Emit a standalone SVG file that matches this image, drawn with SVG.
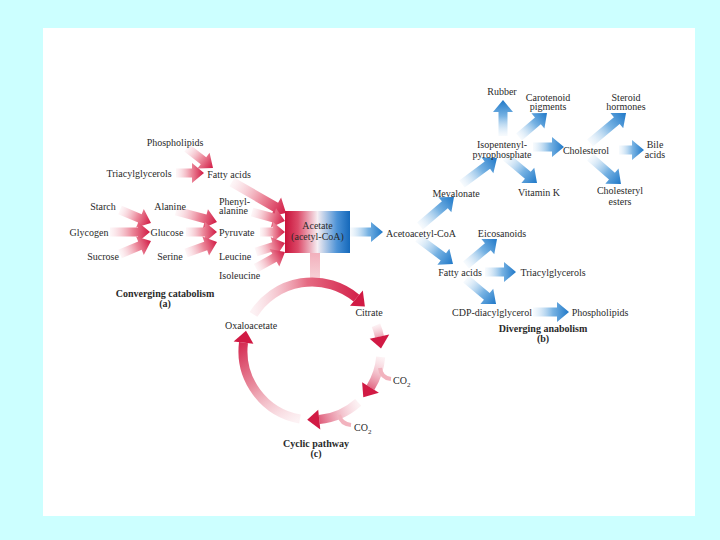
<svg xmlns="http://www.w3.org/2000/svg" width="720" height="540" viewBox="0 0 720 540">
<style>
text{font-family:"Liberation Serif","DejaVu Serif",serif;font-size:10px;fill:#2a2a2a;text-anchor:middle}
.l{text-anchor:start}
.b{font-weight:bold;font-size:10px}
.r{fill:url(#gR)}
.bl{fill:url(#gB)}
</style>
<defs>
<linearGradient id="gR" x1="0" y1="0" x2="1" y2="0">
<stop offset="0" stop-color="#f7d3da" stop-opacity="0.2"/>
<stop offset="0.55" stop-color="#ec8a9c"/>
<stop offset="1" stop-color="#d11a44"/>
</linearGradient>
<linearGradient id="gB" x1="0" y1="0" x2="1" y2="0">
<stop offset="0" stop-color="#d6e8f7" stop-opacity="0.2"/>
<stop offset="0.55" stop-color="#78b3e3"/>
<stop offset="1" stop-color="#1f78c8"/>
</linearGradient>
<linearGradient id="gBox" x1="0" y1="0" x2="1" y2="0">
<stop offset="0" stop-color="#c8123a"/>
<stop offset="0.2" stop-color="#dc4a68"/>
<stop offset="0.5" stop-color="#f6eef2"/>
<stop offset="0.8" stop-color="#4c92d6"/>
<stop offset="1" stop-color="#1468ba"/>
</linearGradient>
<linearGradient id="gStem" x1="0" y1="0" x2="0" y2="1">
<stop offset="0" stop-color="#f2b0bc"/>
<stop offset="1" stop-color="#f8dade"/>
</linearGradient>
<linearGradient id="a1" gradientUnits="userSpaceOnUse" x1="253" y1="314" x2="365" y2="307">
<stop offset="0" stop-color="#f7d3da" stop-opacity="0.3"/><stop offset="0.5" stop-color="#e56a82"/><stop offset="1" stop-color="#d11a44"/>
</linearGradient>
<linearGradient id="a2" gradientUnits="userSpaceOnUse" x1="376" y1="325" x2="381" y2="349">
<stop offset="0" stop-color="#f7d3da" stop-opacity="0.3"/><stop offset="1" stop-color="#d11a44"/>
</linearGradient>
<linearGradient id="a3" gradientUnits="userSpaceOnUse" x1="381" y1="357" x2="363" y2="397">
<stop offset="0" stop-color="#f7d3da" stop-opacity="0.3"/><stop offset="1" stop-color="#d11a44"/>
</linearGradient>
<linearGradient id="a4" gradientUnits="userSpaceOnUse" x1="358" y1="402" x2="307" y2="420">
<stop offset="0" stop-color="#f7d3da" stop-opacity="0.3"/><stop offset="1" stop-color="#d11a44"/>
</linearGradient>
<linearGradient id="a5" gradientUnits="userSpaceOnUse" x1="300" y1="419" x2="246" y2="331">
<stop offset="0" stop-color="#f7d3da" stop-opacity="0.3"/><stop offset="0.5" stop-color="#e98fa0"/><stop offset="1" stop-color="#d11a44"/>
</linearGradient>
</defs>
<rect width="720" height="540" fill="#ccffff"/>
<rect x="43" y="28" width="652" height="488" fill="#ffffff"/>

<g id="connectors">
<path class="r" transform="translate(187,148) rotate(37.6)" d="M0,-4.5 H20.8 V-10 L32.8,0 L20.8,10 V4.5 H0 Z"/>
<path class="r" transform="translate(176,173)" d="M0,-4.5 H16 V-10 L28,0 L16,10 V4.5 H0 Z"/>
<path class="r" transform="translate(232,182) rotate(29.9)" d="M0,-5 H50.3 V-11 L62.3,0 L50.3,11 V5 H0 Z"/>
<path class="r" transform="translate(120,210) rotate(22.7)" d="M0,-4.5 H21.6 V-10 L33.6,0 L21.6,10 V4.5 H0 Z"/>
<path class="r" transform="translate(110,232)" d="M0,-4.5 H28 V-10 L40,0 L28,10 V4.5 H0 Z"/>
<path class="r" transform="translate(120,254) rotate(-22.7)" d="M0,-4.5 H21.6 V-10 L33.6,0 L21.6,10 V4.5 H0 Z"/>
<path class="r" transform="translate(176,211) rotate(15)" d="M0,-4.5 H30.4 V-10 L42.4,0 L30.4,10 V4.5 H0 Z"/>
<path class="r" transform="translate(186,232)" d="M0,-4.5 H19 V-10 L31,0 L19,10 V4.5 H0 Z"/>
<path class="r" transform="translate(186,253) rotate(-19.5)" d="M0,-4.5 H20.9 V-10 L32.9,0 L20.9,10 V4.5 H0 Z"/>
<path class="r" transform="translate(252,212) rotate(15.3)" d="M0,-4.5 H22.2 V-10 L34.2,0 L22.2,10 V4.5 H0 Z"/>
<path class="r" transform="translate(260,232)" d="M0,-4.5 H13 V-10 L25,0 L13,10 V4.5 H0 Z"/>
<path class="r" transform="translate(256,252) rotate(-17.2)" d="M0,-4.5 H18.4 V-10 L30.4,0 L18.4,10 V4.5 H0 Z"/>
<path class="r" transform="translate(256,268) rotate(-28.9)" d="M0,-4.5 H21.1 V-10 L33.1,0 L21.1,10 V4.5 H0 Z"/>

<path class="bl" transform="translate(350,232)" d="M0,-4.5 H21 V-10 L33,0 L21,10 V4.5 H0 Z"/>
<path class="bl" transform="translate(420,226) rotate(-40.5)" d="M0,-4.5 H32.7 V-10 L44.7,0 L32.7,10 V4.5 H0 Z"/>
<path class="bl" transform="translate(418,238) rotate(36.6)" d="M0,-4.5 H31.6 V-10 L43.6,0 L31.6,10 V4.5 H0 Z"/>
<path class="bl" transform="translate(462,184) rotate(-36.6)" d="M0,-4.5 H31.6 V-10 L43.6,0 L31.6,10 V4.5 H0 Z"/>
<path class="bl" transform="translate(503,136) rotate(-90)" d="M0,-4.5 H24 V-10 L36,0 L24,10 V4.5 H0 Z"/>
<path class="bl" transform="translate(519,137) rotate(-40.6)" d="M0,-4.5 H24.9 V-10 L36.9,0 L24.9,10 V4.5 H0 Z"/>
<path class="bl" transform="translate(533,147)" d="M0,-4.5 H19 V-10 L31,0 L19,10 V4.5 H0 Z"/>
<path class="bl" transform="translate(506,157) rotate(40)" d="M0,-4.5 H28.5 V-10 L40.5,0 L28.5,10 V4.5 H0 Z"/>
<path class="bl" transform="translate(590,143) rotate(-39.8)" d="M0,-4.5 H34.9 V-10 L46.9,0 L34.9,10 V4.5 H0 Z"/>
<path class="bl" transform="translate(619,150)" d="M0,-4.5 H13 V-10 L25,0 L13,10 V4.5 H0 Z"/>
<path class="bl" transform="translate(590,157) rotate(41.1)" d="M0,-4.5 H29.1 V-10 L41.1,0 L29.1,10 V4.5 H0 Z"/>
<path class="bl" transform="translate(466,265) rotate(-40)" d="M0,-4.5 H28.5 V-10 L40.5,0 L28.5,10 V4.5 H0 Z"/>
<path class="bl" transform="translate(485,272)" d="M0,-4.5 H19 V-10 L31,0 L19,10 V4.5 H0 Z"/>
<path class="bl" transform="translate(466,279) rotate(39.8)" d="M0,-4.5 H27.1 V-10 L39.1,0 L27.1,10 V4.5 H0 Z"/>
<path class="bl" transform="translate(533,312)" d="M0,-4.5 H24 V-10 L36,0 L24,10 V4.5 H0 Z"/>

<rect x="310" y="253" width="10" height="32" fill="url(#gStem)"/>
<path d="M253.5,314.4 A69,69 0 0 1 356.4,298.1" fill="none" stroke="url(#a1)" stroke-width="9"/>
<polygon points="362.8,290.6 364.9,306.6 350,305.8" fill="#d11a44"/>
<path d="M376,325.2 A69,69 0 0 1 379.5,336.7" fill="none" stroke="url(#a2)" stroke-width="9"/>
<polygon points="389.2,334.6 381,348.6 369.7,338.7" fill="#d11a44"/>
<path d="M380.7,357 A69,69 0 0 1 370.5,387.6" fill="none" stroke="url(#a3)" stroke-width="9"/>
<polygon points="378.9,392.8 363.3,397.2 362.1,382.2" fill="#d11a44"/>
<path d="M358.2,402.3 A69,69 0 0 1 319.2,419.6" fill="none" stroke="url(#a4)" stroke-width="9"/>
<polygon points="320.3,429.6 307.2,419.8 318.2,409.7" fill="#d11a44"/>
<path d="M300,419 A69,69 0 0 1 243.5,342.6" fill="none" stroke="url(#a5)" stroke-width="9"/>
<polygon points="233.6,341.4 246,330.8 253.4,343.7" fill="#d11a44"/>
<path d="M380,368 Q381,378 391,379" fill="none" stroke="#f2b3be" stroke-width="4"/>
<path d="M339,415 Q341,424 351,425" fill="none" stroke="#f2b3be" stroke-width="4"/>
</g>

<g id="acetate">
<rect x="285" y="211" width="65" height="42" fill="url(#gBox)"/>
<text x="317.5" y="229">Acetate</text>
<text x="317.5" y="240">(acetyl-CoA)</text>
</g>

<g id="phospholipids-a"><text x="175" y="145.5">Phospholipids</text></g>
<g id="triacylglycerols-a"><text x="139" y="176.5">Triacylglycerols</text></g>
<g id="fattyacids-a"><text x="229" y="177.5">Fatty acids</text></g>
<g id="starch"><text x="103" y="209.5">Starch</text></g>
<g id="glycogen"><text x="89" y="235.5">Glycogen</text></g>
<g id="sucrose"><text x="103" y="259.5">Sucrose</text></g>
<g id="alanine"><text x="170" y="209.5">Alanine</text></g>
<g id="glucose"><text x="167" y="235.5">Glucose</text></g>
<g id="serine"><text x="170" y="259.5">Serine</text></g>
<g id="phenylalanine"><text class="l" x="219" y="204.5">Phenyl-</text><text class="l" x="219" y="214">alanine</text></g>
<g id="pyruvate"><text class="l" x="219" y="235.5">Pyruvate</text></g>
<g id="leucine"><text class="l" x="219" y="259.5">Leucine</text></g>
<g id="isoleucine"><text class="l" x="219" y="278.5">Isoleucine</text></g>
<g id="title-a"><text class="b" x="165" y="296.5">Converging catabolism</text><text class="b" x="165" y="307">(a)</text></g>

<g id="acetoacetyl"><text class="l" x="386" y="236.5">Acetoacetyl-CoA</text></g>
<g id="mevalonate"><text x="456" y="197">Mevalonate</text></g>
<g id="rubber"><text x="502" y="94.5">Rubber</text></g>
<g id="carotenoid"><text x="548" y="100.5">Carotenoid</text><text x="548" y="110">pigments</text></g>
<g id="steroid"><text x="626" y="100.5">Steroid</text><text x="626" y="110">hormones</text></g>
<g id="isopentenyl"><text x="502" y="147.5">Isopentenyl-</text><text x="502" y="157.5">pyrophosphate</text></g>
<g id="cholesterol"><text x="586" y="153.5">Cholesterol</text></g>
<g id="bile"><text x="655" y="147.5">Bile</text><text x="655" y="158">acids</text></g>
<g id="vitamink"><text x="539" y="195.5">Vitamin K</text></g>
<g id="cholesteryl"><text x="620" y="193.5">Cholesteryl</text><text x="620" y="205">esters</text></g>
<g id="eicosanoids"><text x="502" y="236.5">Eicosanoids</text></g>
<g id="fattyacids-b"><text x="460" y="276">Fatty acids</text></g>
<g id="triacylglycerols-b"><text x="553" y="276">Triacylglycerols</text></g>
<g id="cdp"><text x="492" y="315.5">CDP-diacylglycerol</text></g>
<g id="phospholipids-b"><text x="600" y="315.5">Phospholipids</text></g>
<g id="title-b"><text class="b" x="543" y="331.5">Diverging anabolism</text><text class="b" x="543" y="342">(b)</text></g>

<g id="citrate"><text x="369" y="315.5">Citrate</text></g>
<g id="oxaloacetate"><text x="251" y="328.5">Oxaloacetate</text></g>
<g id="co2-1"><text class="l" x="393" y="384">CO<tspan font-size="7" dy="2.5">2</tspan></text></g>
<g id="co2-2"><text class="l" x="354" y="431">CO<tspan font-size="7" dy="2.5">2</tspan></text></g>
<g id="title-c"><text class="b" x="316" y="446.5">Cyclic pathway</text><text class="b" x="316" y="457">(c)</text></g>
</svg>
